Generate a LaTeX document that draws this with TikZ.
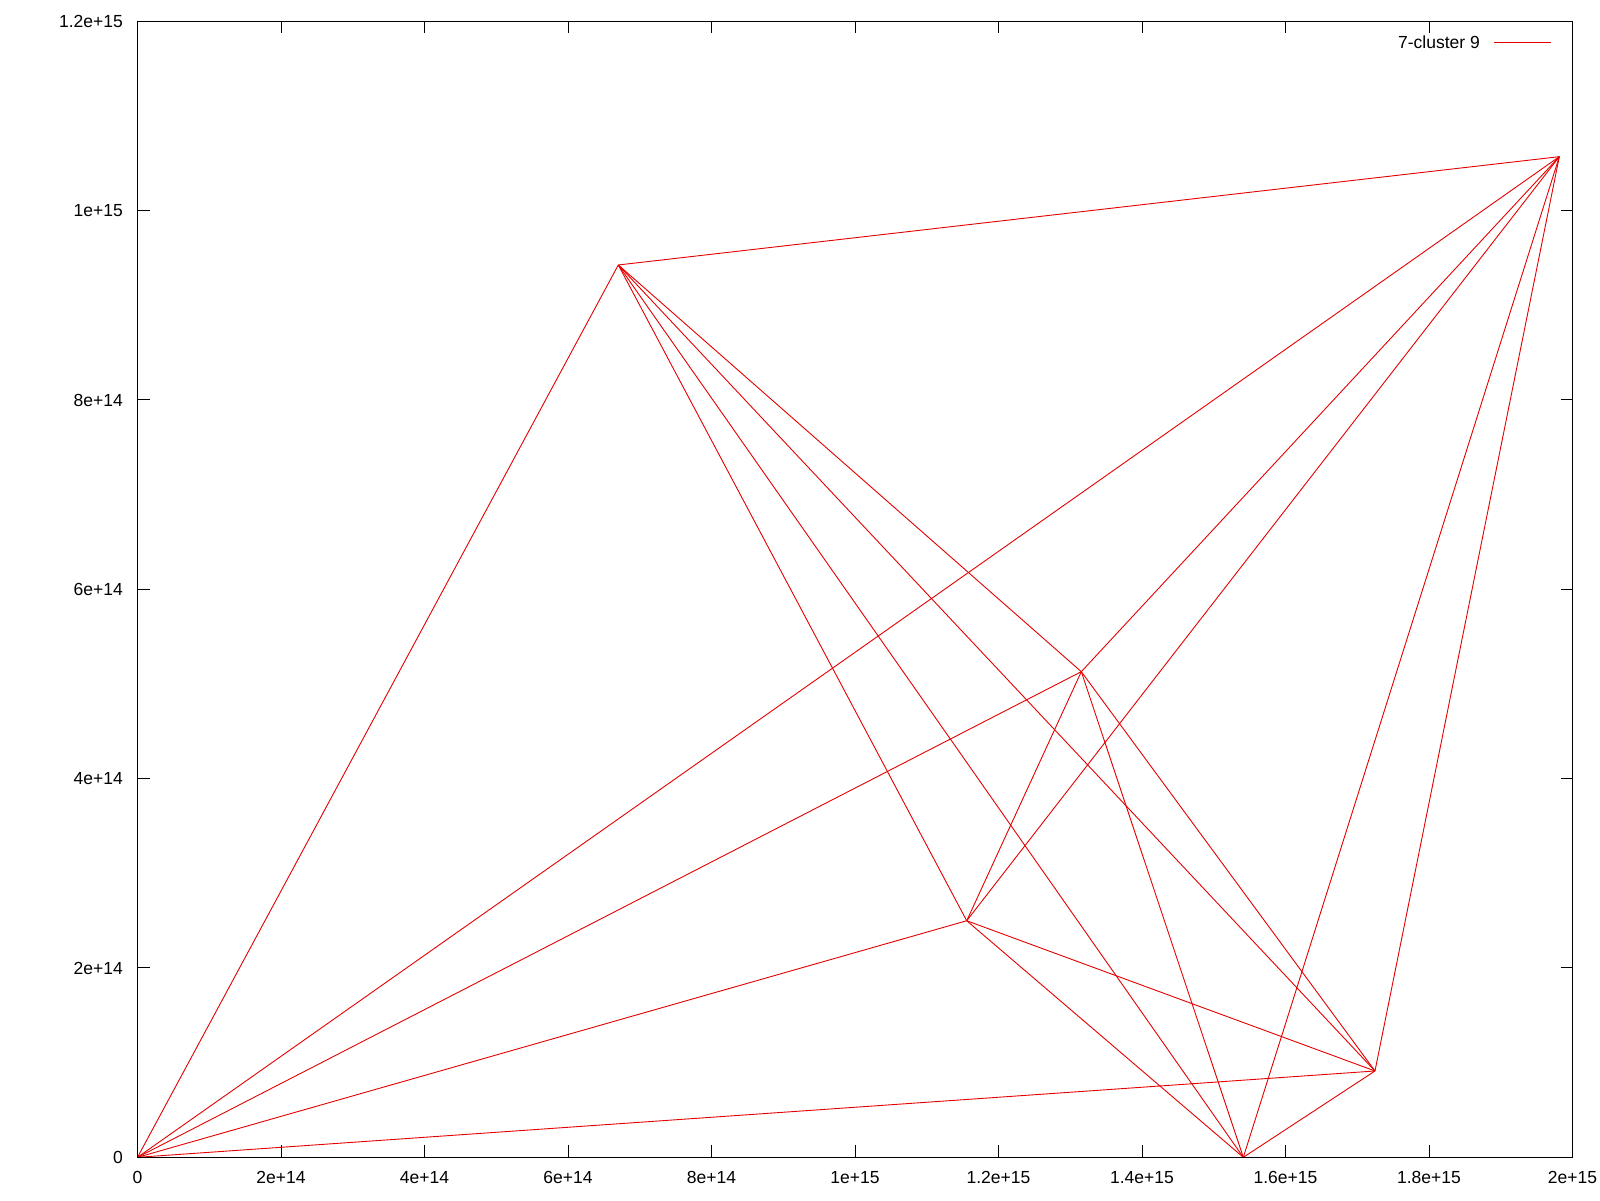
\documentclass[tikz,border=0pt]{standalone}
\usepackage{fontspec}
\setmainfont{Liberation Sans}
\begin{document}
\begin{tikzpicture}[x=1pt,y=-1pt,
  lbl/.style={inner sep=0pt,font=\fontsize{17.5}{20}\selectfont},
  axisline/.style={black,line width=1pt},
  edge/.style={red!90!black,line width=0.9pt}]
\useasboundingbox[fill=white] (0,0) rectangle (1600,1200);
% frame corners
\coordinate (bl) at (137.5,1157.3);
\coordinate (tr) at (1572.5,21.3);
% ticks and labels
\foreach \j/\t in {0/0,1/2e+14,2/4e+14,3/6e+14,4/8e+14,5/1e+15,6/1.2e+15}{
  \pgfmathsetmacro{\yy}{1157.3-\j*189.333}
  \draw[axisline] (137.5,\yy) -- (149.5,\yy);
  \draw[axisline] (1572.5,\yy) -- (1560.5,\yy);
  \node[lbl,anchor=east] (yl\j) at (123,\yy) {\t};
}
\foreach \i/\t in {0/0,1/2e+14,2/4e+14,3/6e+14,4/8e+14,5/1e+15,6/1.2e+15,7/1.4e+15,8/1.6e+15,9/1.8e+15,10/2e+15}{
  \pgfmathsetmacro{\xx}{137.5+\i*143.5}
  \draw[axisline] (\xx,1157.3) -- (\xx,1145.3);
  \draw[axisline] (\xx,21.3) -- (\xx,33.3);
  \node[lbl] (xl\i) at (\xx,1177.5) {\t};
}
% data
\begin{scope}[shift={(137.5,1157.3)},x=717.5pt,y=946.667pt]
  \coordinate (p1) at (0,0);
  \coordinate (p2) at (0.6701,0.9426);
  \coordinate (p3) at (1.1557,0.2499);
  \coordinate (p4) at (1.3154,0.5130);
  \coordinate (p5) at (1.5412,0);
  \coordinate (p6) at (1.7247,0.0912);
  \coordinate (p7) at (1.9816,1.0570);
\end{scope}
\foreach \a/\b in {p1/p2,p1/p3,p1/p4,p1/p6,p1/p7,
  p2/p3,p2/p4,p2/p5,p2/p6,p2/p7,
  p3/p4,p3/p5,p3/p6,p3/p7,
  p4/p5,p4/p6,p4/p7,
  p5/p6,p5/p7,p6/p7}{
  \draw[edge] (\a) -- (\b);
}
% legend
\node[lbl,anchor=east] (leg) at (1480,42.7) {7-cluster 9};
\coordinate (ls) at (1494,42.7);
\coordinate (le) at (1550.7,42.7);
\draw[edge] (ls) -- (le);
% border
\draw[axisline] (bl) rectangle (tr);
\end{tikzpicture}
\end{document}
